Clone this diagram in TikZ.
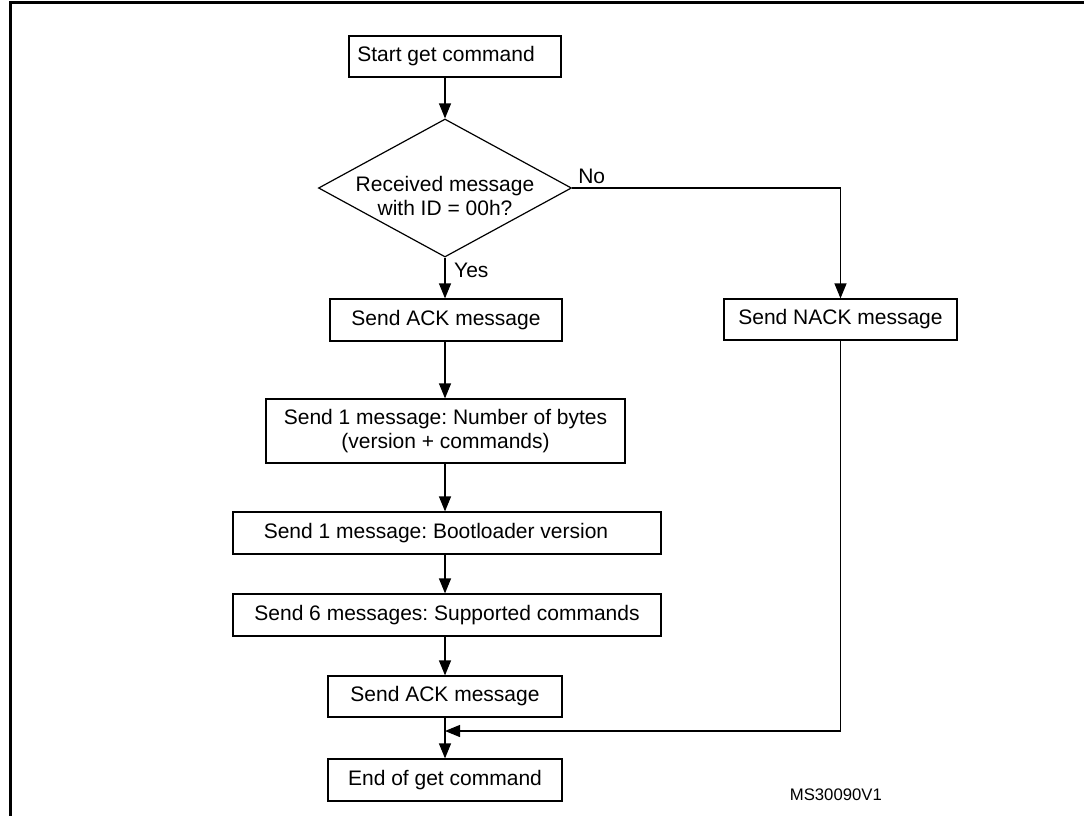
\documentclass[tikz,border=0pt]{standalone}
\usepackage{fontspec}
\setmainfont{Liberation Sans}
\usetikzlibrary{arrows.meta,shapes.geometric}
\frenchspacing
\begin{document}
\begin{tikzpicture}[x=1pt,y=-1pt,
  txt/.style={font=\fontsize{21}{24}\selectfont},
  box/.style={draw,line width=1.2pt,inner sep=0pt,txt,align=center,
    text height=15pt,text depth=4.5pt},
  decision/.style={draw,diamond,line width=1.2pt,inner sep=0pt,
    minimum width=253pt,minimum height=138pt},
  arr/.style={line width=1.2pt,-{Triangle[length=15pt,width=12pt]}},
  frame/.style={line width=3pt}]
\useasboundingbox (0,0) rectangle (1084,816);

% outer frame (top and left edges)
\draw[frame] (10,820) -- (10,3) -- (1090,3);

% main spine of the flow
\coordinate (spine) at (445,0);

% process boxes and decision
\node[box,minimum width=212pt,minimum height=41pt,
  label={[txt,xshift=-9pt]center:Start get command}] (start) at (455,56.5) {};
\node[decision,label={[txt,align=center,yshift=-7.5pt]center:Received message\\with ID = 00h?}]
  (dia) at (445,188) {};
\node[box,minimum width=232pt,minimum height=42pt] (ack1) at (446,320) {Send ACK message};
\node[box,minimum width=359pt,minimum height=64pt,text height=,text depth=]
  (bytes) at (445.5,431) {Send 1 message: Number of bytes\\(version + commands)};
\node[box,minimum width=428pt,minimum height=42pt,
  label={[txt,xshift=-11pt]center:Send 1 message: Bootloader version}] (boot) at (447,533) {};
\node[box,minimum width=428pt,minimum height=42pt] (cmds) at (447,615)
  {Send 6 messages: Supported commands};
\node[box,minimum width=234pt,minimum height=41pt] (ack2) at (445,696.5) {Send ACK message};
\node[box,minimum width=234pt,minimum height=42pt] (end) at (445,780) {End of get command};
\node[box,minimum width=233pt,minimum height=41pt] (nack) at (840.5,319.5) {Send NACK message};

% branch labels
\node[txt,anchor=base west,xshift=6pt,yshift=5pt,inner sep=0pt] (nolbl) at (dia.east) {No};
\node[txt,anchor=base west,xshift=9pt,yshift=-20pt,inner sep=0pt] (yeslbl) at (dia.south) {Yes};

% junction where the NACK path rejoins
\coordinate (join) at (445,731);

% connectors
\draw[arr] (spine |- start.south) -- (dia.north);
\draw[arr] (dia.south) -- (spine |- ack1.north);
\draw[arr] (spine |- ack1.south) -- (spine |- bytes.north);
\draw[arr] (spine |- bytes.south) -- (spine |- boot.north);
\draw[arr] (spine |- boot.south) -- (spine |- cmds.north);
\draw[arr] (spine |- cmds.south) -- (spine |- ack2.north);
\draw[arr] (spine |- ack2.south) -- (spine |- end.north);
\draw[arr] (dia.east) -| (nack.north);
\draw[arr] (nack.south) |- (join);

% figure reference
\node[font=\fontsize{16.7}{20}\selectfont,anchor=base east,inner sep=0pt] (ref) at (882,800) {MS30090V1};
\end{tikzpicture}
\end{document}
